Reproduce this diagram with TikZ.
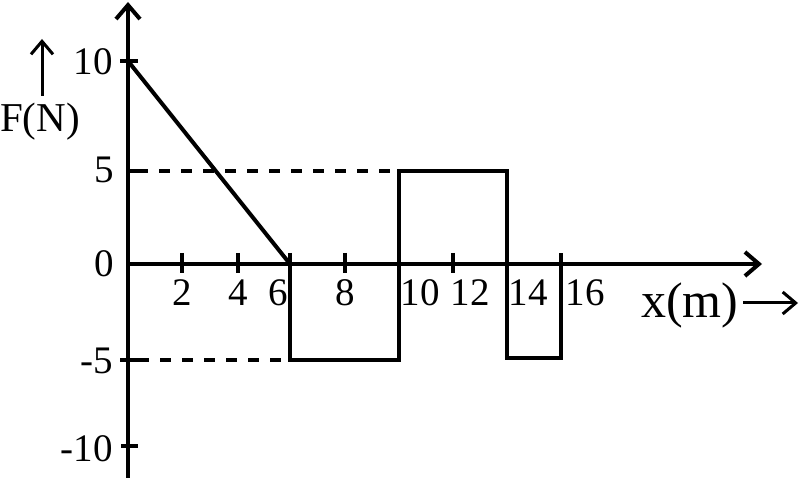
\documentclass[tikz,border=0pt]{standalone}
\usepackage{fontspec}
\setmainfont{Liberation Serif}
\usetikzlibrary{arrows.meta}
\begin{document}
\begin{tikzpicture}[x=1pt,y=-1pt,
  axis/.style={line width=4.2pt,-{Straight Barb[length=14pt,width=24pt,line width=4pt]}},
  curve/.style={line width=4pt,line join=miter},
  tick/.style={line width=4pt},
  dashline/.style={line width=4pt,dash pattern=on 11pt off 11pt},
  lab/.style={font=\fontsize{39}{40}\selectfont,inner sep=0pt},
  unitarrow/.style={line width=3pt,-{Straight Barb[length=13pt,width=22pt,line width=3pt]}}]
\useasboundingbox (0,0) rectangle (804,478);
% axes
\coordinate (O) at (128,264);
\coordinate (ybot) at (128,478);
\coordinate (ytop) at (128,2);
\coordinate (xend) at (762,264);
\draw[axis] (ybot) -- (ytop);
\draw[axis] (O) -- (xend);
% y ticks
\draw[tick] (120,61) -- (138,61);
\draw[tick] (128,171) -- (138,171);
\draw[tick] (120,360) -- (138,360);
\draw[tick] (121,446) -- (138,446);
% x ticks
\foreach \xx in {182,238,345,453}{\draw[tick] (\xx,253) -- (\xx,273);}
% dashed guides
\coordinate (d5a) at (137,171);
\coordinate (d5b) at (399,171);
\coordinate (dm5a) at (138,360);
\coordinate (dm5b) at (290,360);
\draw[dashline] (d5a) -- (d5b);
\draw[dashline] (dm5a) -- (dm5b);
% graph
\coordinate (p0) at (128,61);
\coordinate (p1) at (290,264);
\draw[curve] (p0) -- (p1);
\draw[curve] (290,253) -- (290,360) -- (399,360) -- (399,171) -- (507,171) -- (507,358) -- (561,358) -- (561,253);
% y labels
\node[lab,anchor=base east] (y10) at (113,75) {10};
\node[lab,anchor=base east] (y5) at (114,183) {5};
\node[lab,anchor=base east] (y0) at (114,277) {0};
\node[lab,anchor=base east] (ym5) at (113,374) {-5};
\node[lab,anchor=base east] (ym10) at (113,461) {-10};
% x labels
\node[lab,anchor=base] (x2) at (182,306) {2};
\node[lab,anchor=base] (x4) at (238,306) {4};
\node[lab,anchor=base] (x6) at (278,306) {6};
\node[lab,anchor=base] (x8) at (345,306) {8};
\node[lab,anchor=base] (x10) at (420,306) {10};
\node[lab,anchor=base] (x12) at (470,306) {12};
\node[lab,anchor=base] (x14) at (528,306) {14};
\node[lab,anchor=base] (x16) at (585,306) {16};
% axis names
\node[lab,font=\fontsize{41}{42}\selectfont,anchor=base west] (fn) at (0,132) {F(N)};
\coordinate (fa0) at (42,96);
\coordinate (fa1) at (42,39);
\draw[unitarrow] (fa0) -- (fa1);
\node[lab,font=\fontsize{50}{52}\selectfont,anchor=base west] (xm) at (641,318) {x(m)};
\coordinate (xa0) at (743,303);
\coordinate (xa1) at (798,303);
\draw[unitarrow] (xa0) -- (xa1);
\end{tikzpicture}
\end{document}
